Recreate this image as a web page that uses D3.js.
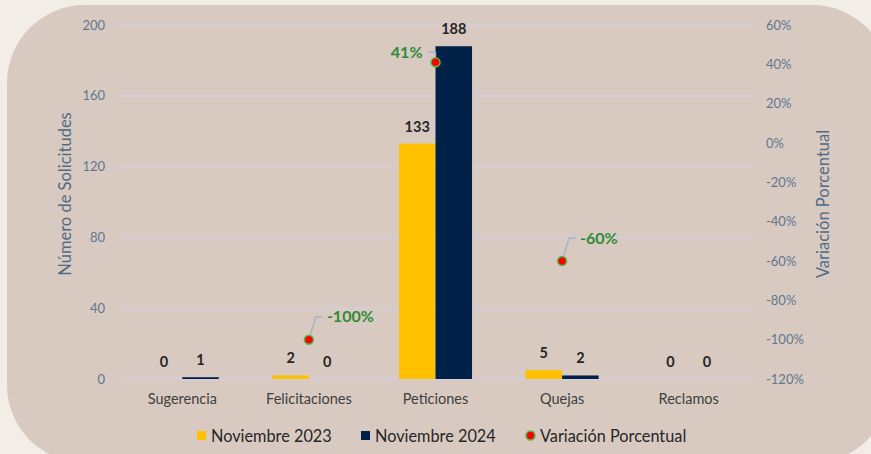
<!DOCTYPE html>
<html>
<head>
<meta charset="utf-8">
<script src="https://cdn.jsdelivr.net/npm/d3@7"></script>
<style>
  html, body { margin: 0; padding: 0; background: #f2eee7; }
  svg { display: block; font-family: Lato, "Open Sans", sans-serif; }
  .tick-label { fill: #5e7790; font-size: 13px; }
  .axis-title { fill: #4f6b86; font-size: 16.5px; }
  .cat-label { fill: #404040; font-size: 14.5px; }
  .val-label { fill: #262626; font-size: 14.5px; font-weight: bold; }
  .pct-label { fill: #2f8a35; font-size: 16px; font-weight: bold; }
  .legend-text { fill: #262626; font-size: 16.3px; }
</style>
</head>
<body>
<div id="chart"></div>
<script>
// chart data
const categories = ["Sugerencia", "Felicitaciones", "Peticiones", "Quejas", "Reclamos"];
const series = ["Noviembre 2023", "Noviembre 2024"];
const nov2023 = [0, 2, 133, 5, 0];
const nov2024 = [1, 0, 188, 2, 0];
const variation = [null, -100, 41, -60, null];   // percent
const leftTicks = [0, 40, 80, 120, 160, 200];
const rightTicks = [-120, -100, -80, -60, -40, -20, 0, 20, 40, 60];

const W = 871, H = 454;
const colors = { "Noviembre 2023": "#ffc000", "Noviembre 2024": "#002147" };

const svg = d3.select("#chart").append("svg").attr("width", W).attr("height", H);

// rounded panel
svg.append("rect").attr("x", 7).attr("y", 5).attr("width", 883).attr("height", 458)
    .attr("rx", 78).attr("fill", "#d9cac1");

const plot = { left: 119, right: 752, top: 25, bottom: 379 };

const x0 = d3.scaleBand().domain(categories).range([plot.left, plot.right]).padding(0);
const groupW = x0.bandwidth() * 0.577;
const x1 = d3.scaleBand().domain(series).range([0, groupW]).padding(0);
const y = d3.scaleLinear().domain([0, 200]).range([plot.bottom, plot.top]);
const yR = d3.scaleLinear().domain([-120, 60]).range([plot.bottom, plot.top]);

// gridlines
svg.append("g").selectAll("line").data(leftTicks).join("line")
    .attr("x1", plot.left).attr("x2", plot.right)
    .attr("y1", d => y(d)).attr("y2", d => y(d))
    .attr("stroke", "#d6ccd8").attr("stroke-width", 2);

// left axis labels
svg.append("g").selectAll("text").data(leftTicks).join("text")
    .attr("class", "tick-label")
    .attr("x", 105).attr("y", d => y(d)).attr("dy", "0.35em")
    .attr("text-anchor", "end").text(d => d);

// right axis labels
svg.append("g").selectAll("text").data(rightTicks).join("text")
    .attr("class", "tick-label")
    .attr("x", 766).attr("y", d => yR(d)).attr("dy", "0.35em")
    .attr("text-anchor", "start").text(d => d + "%");

// axis titles
svg.append("text").attr("class", "axis-title")
    .attr("transform", `translate(71,${(plot.top + plot.bottom) / 2 - 8}) rotate(-90)`)
    .attr("text-anchor", "middle").text("Número de Solicitudes");
svg.append("text").attr("class", "axis-title")
    .attr("transform", `translate(829,${(plot.top + plot.bottom) / 2 + 2}) rotate(-90)`)
    .attr("text-anchor", "middle").text("Variación Porcentual");

// bars
const rows = categories.map((c, i) => ({
    cat: c,
    vals: [{ s: series[0], v: nov2023[i] }, { s: series[1], v: nov2024[i] }]
}));
const offset = (x0.bandwidth() - groupW) / 2;

const groups = svg.append("g").selectAll("g").data(rows).join("g")
    .attr("transform", d => `translate(${x0(d.cat) + offset},0)`);

groups.selectAll("rect").data(d => d.vals).join("rect")
    .attr("x", d => x1(d.s)).attr("width", x1.bandwidth())
    .attr("y", d => y(d.v)).attr("height", d => y(0) - y(d.v))
    .attr("fill", d => colors[d.s]);

groups.selectAll("text").data(d => d.vals).join("text")
    .attr("class", "val-label")
    .attr("x", d => x1(d.s) + x1.bandwidth() / 2)
    .attr("y", d => y(d.v) - 12)
    .attr("text-anchor", "middle").text(d => d.v);

// category labels
svg.append("g").selectAll("text").data(categories).join("text")
    .attr("class", "cat-label")
    .attr("x", d => x0(d) + x0.bandwidth() / 2).attr("y", 404)
    .attr("text-anchor", "middle").text(d => d);

// variation points with leader lines
const pts = categories.map((c, i) => ({ cat: c, v: variation[i] })).filter(d => d.v !== null);
const pg = svg.append("g");
pts.forEach(d => {
    const px = x0(d.cat) + x0.bandwidth() / 2, py = yR(d.v);
    const pos = d.v > 0;
    const ex = pos ? px : px + 7, ey = pos ? py - 10 : py - 23;
    const hx = pos ? px - 8 : ex + 7;
    pg.append("polyline")
        .attr("points", `${px},${py} ${ex},${ey} ${hx},${ey}`)
        .attr("fill", "none").attr("stroke", "#a7b3c2").attr("stroke-width", 1.5);
    pg.append("circle").attr("cx", px).attr("cy", py).attr("r", 4.5)
        .attr("fill", "#ff0000").attr("stroke", "#4cc24c").attr("stroke-width", 1.5);
    pg.append("text").attr("class", "pct-label")
        .attr("x", pos ? hx - 5 : hx + 4).attr("y", ey).attr("dy", "0.35em")
        .attr("text-anchor", pos ? "end" : "start").text(d.v + "%");
});

// legend
const leg = svg.append("g");
const legItems = [
    { label: series[0], x: 197, type: "sq", color: colors[series[0]] },
    { label: series[1], x: 361, type: "sq", color: colors[series[1]] },
    { label: "Variación Porcentual", x: 526, type: "dot" }
];
legItems.forEach(d => {
    if (d.type === "sq") {
        leg.append("rect").attr("x", d.x).attr("y", 431).attr("width", 9).attr("height", 9).attr("fill", d.color);
    } else {
        leg.append("circle").attr("cx", d.x + 4.5).attr("cy", 435.5).attr("r", 4.5)
            .attr("fill", "#ff0000").attr("stroke", "#4cc24c").attr("stroke-width", 1.5);
    }
    leg.append("text").attr("class", "legend-text").attr("x", d.x + 14).attr("y", 436)
        .attr("dy", "0.35em").text(d.label);
});
</script>
</body>
</html>
